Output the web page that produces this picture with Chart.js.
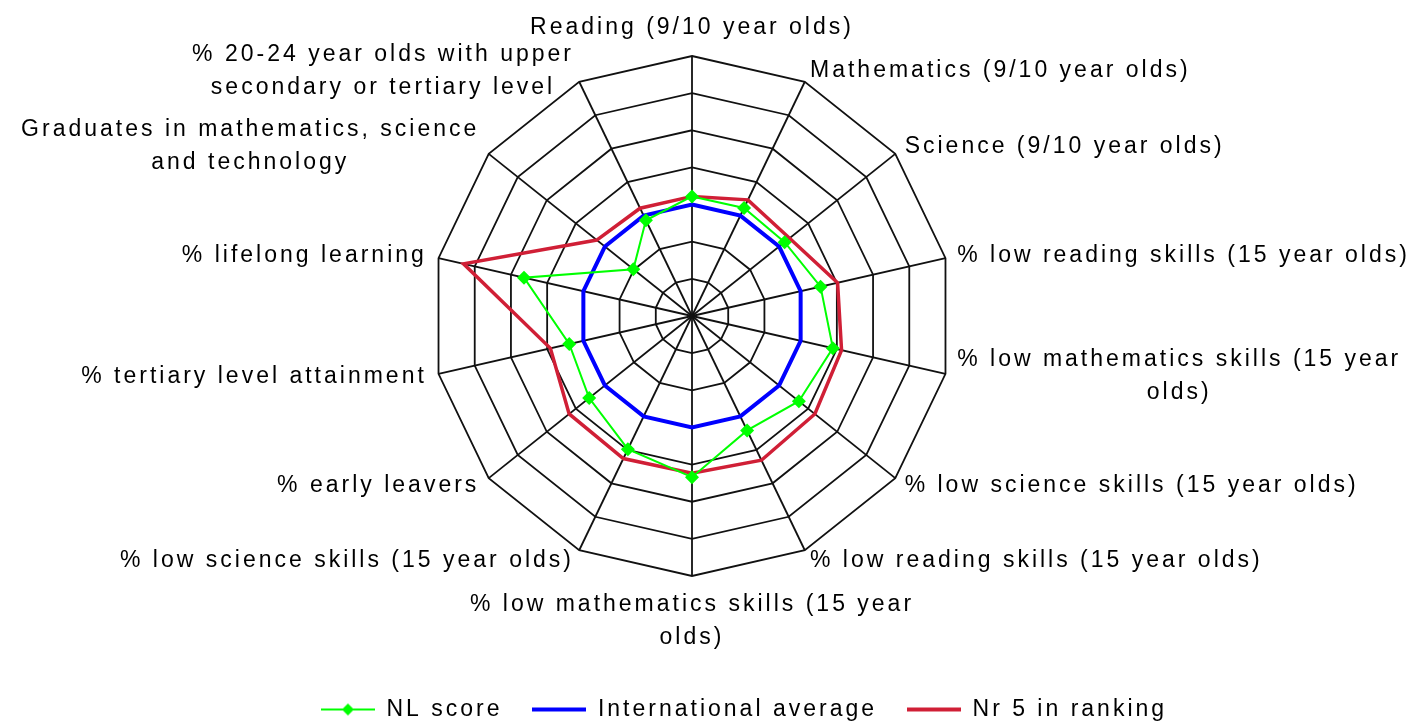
<!DOCTYPE html>
<html lang="en">
<head>
    <meta charset="UTF-8">
    <title>Education radar chart</title>
    <script src="https://cdn.jsdelivr.net/npm/chart.js"></script>
    <style>
        body {
            margin: 0;
            background-color: white;
        }
        #chartContainer {
            width: 1412px;
            height: 727px;
        }
    </style>
</head>
<body>

<div id="chartContainer">
    <canvas id="radarChart"></canvas>
</div>

<script>
    // Axis labels, clockwise from the top
    const axisLabels = [
        'Reading (9/10 year olds)',
        'Mathematics (9/10 year olds)',
        'Science (9/10 year olds)',
        '% low reading skills (15 year olds)',
        ['% low mathematics skills (15 year', 'olds)'],
        '% low science skills (15 year olds)',
        '% low reading skills (15 year olds)',
        ['% low mathematics skills (15 year', 'olds)'],
        '% low science skills (15 year olds)',
        '% early leavers',
        '% tertiary level attainment',
        '% lifelong learning',
        ['Graduates in mathematics, science', 'and technology'],
        ['% 20-24 year olds with upper', 'secondary or tertiary level']
    ];

    const seriesNames = ['NL score', 'International average', 'Nr 5 in ranking'];

    // values (scale 0..7, no tick labels shown)
    const nlScore = [3.22, 3.23, 3.19, 3.55, 3.89, 3.68, 3.42, 4.34, 3.98, 3.54, 3.39, 4.64, 2.02, 2.86];
    const intAverage = [3, 3, 3, 3, 3, 3, 3, 3, 3, 3, 3, 3, 3, 3];
    const nr5Ranking = [3.22, 3.47, 3.36, 4.02, 4.13, 4.23, 4.31, 4.23, 4.26, 4.23, 3.91, 6.31, 3.28, 3.22];

    const scaleMin = 0;
    const scaleMax = 7;
    const scaleStep = 1;

    // layout
    const CENTER_X = 692;
    const CENTER_Y = 316;
    const RADIUS = 260;
    const LABEL_GAP = 12;
    const LINE_HEIGHT = 33;
    const FONT_FAMILY = "'Liberation Sans', Arial, sans-serif";
    const FONT_SIZE = 23;
    const LETTER_SPACING = '3px';

    const GREEN = '#00ff00';
    const BLUE = '#0000ff';
    const RED = '#d01f36';

    // small canvas used as legend symbol: line, optionally with a diamond
    function legendIcon(color, lineWidth, diamond) {
        const c = document.createElement('canvas');
        c.width = 54;
        c.height = 16;
        const g = c.getContext('2d');
        g.strokeStyle = color;
        g.lineWidth = lineWidth;
        g.beginPath();
        g.moveTo(0, 8);
        g.lineTo(54, 8);
        g.stroke();
        if (diamond) {
            g.fillStyle = color;
            g.beginPath();
            g.moveTo(27, 2);
            g.lineTo(33, 8);
            g.lineTo(27, 14);
            g.lineTo(21, 8);
            g.closePath();
            g.fill();
        }
        return c;
    }

    const legendIcons = [legendIcon(GREEN, 2, true), legendIcon(BLUE, 4, false), legendIcon(RED, 4, false)];

    // letter spacing to mimic the wide bitmap text of the original
    const spacingPlugin = {
        id: 'spacing',
        beforeLayout(chart) { chart.ctx.letterSpacing = LETTER_SPACING; },
        beforeDraw(chart) { chart.ctx.letterSpacing = LETTER_SPACING; }
    };

    // axis labels with centred lines, like the original
    const axisLabelPlugin = {
        id: 'axisLabels',
        afterDraw(chart) {
            const scale = chart.scales.r;
            const ctx = chart.ctx;
            ctx.save();
            ctx.font = FONT_SIZE + 'px ' + FONT_FAMILY;
            ctx.letterSpacing = LETTER_SPACING;
            ctx.fillStyle = '#000';
            ctx.textBaseline = 'middle';
            ctx.textAlign = 'center';
            chart.data.labels.forEach((label, i) => {
                const lines = [].concat(label);
                const angle = scale.getIndexAngle(i);
                const p = scale.getPointPosition(i, scale.drawingArea + LABEL_GAP);
                const w = Math.max(...lines.map(l => ctx.measureText(l).width));
                const h = lines.length * LINE_HEIGHT;
                const s = Math.sin(angle);
                const c = Math.cos(angle);
                let left, top;
                if (Math.abs(s) < 0.01) {
                    left = p.x - w / 2;
                    top = c > 0 ? p.y - h : p.y;
                } else {
                    left = s > 0 ? p.x : p.x - w;
                    top = p.y - h / 2;
                }
                lines.forEach((l, k) => {
                    ctx.fillText(l, left + w / 2, top + LINE_HEIGHT * (k + 0.5));
                });
            });
            ctx.restore();
        }
    };

    const ctx = document.getElementById('radarChart').getContext('2d');
    const chart = new Chart(ctx, {
        type: 'radar',
        data: {
            labels: axisLabels,
            datasets: [
                {
                    label: seriesNames[0],
                    data: nlScore,
                    borderColor: GREEN,
                    borderWidth: 2,
                    backgroundColor: GREEN,
                    pointStyle: 'rectRot',
                    pointRadius: 7,
                    pointBorderWidth: 0,
                    pointBackgroundColor: GREEN,
                    fill: false
                },
                {
                    label: seriesNames[1],
                    data: intAverage,
                    borderColor: BLUE,
                    borderWidth: 4,
                    pointRadius: 0,
                    fill: false
                },
                {
                    label: seriesNames[2],
                    data: nr5Ranking,
                    borderColor: RED,
                    borderWidth: 3.5,
                    pointRadius: 0,
                    fill: false
                }
            ]
        },
        options: {
            responsive: true,
            maintainAspectRatio: false,
            animation: false,
            layout: {
                padding: { left: 76, bottom: -4 }
            },
            elements: {
                line: { tension: 0 }
            },
            scales: {
                r: {
                    min: scaleMin,
                    max: scaleMax,
                    ticks: { stepSize: scaleStep, display: false },
                    grid: { color: '#111', lineWidth: 1.8 },
                    angleLines: { color: '#111', lineWidth: 1.8 },
                    pointLabels: { display: false },
                    afterFit: (scale) => {
                        scale.xCenter = CENTER_X;
                        scale.yCenter = CENTER_Y;
                        scale.drawingArea = RADIUS;
                    }
                }
            },
            plugins: {
                tooltip: { enabled: false },
                legend: {
                    position: 'bottom',
                    labels: {
                        usePointStyle: true,
                        pointStyleWidth: 54,
                        padding: 30,
                        color: '#000',
                        font: { family: FONT_FAMILY, size: FONT_SIZE },
                        generateLabels: (ch) => ch.data.datasets.map((ds, i) => ({
                            text: ds.label,
                            pointStyle: legendIcons[i],
                            fillStyle: ds.borderColor,
                            strokeStyle: ds.borderColor,
                            lineWidth: 0,
                            hidden: false,
                            datasetIndex: i
                        }))
                    }
                }
            }
        },
        plugins: [spacingPlugin, axisLabelPlugin]
    });
</script>

</body>
</html>
